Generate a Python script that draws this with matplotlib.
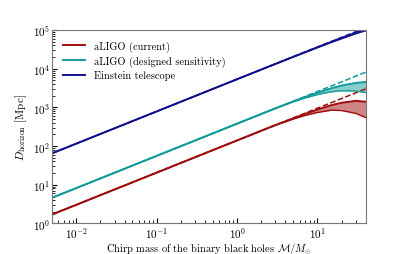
import matplotlib
matplotlib.use('Agg')
import matplotlib.pyplot as plt
import numpy as np

plt.rcParams['font.family'] = 'serif'
plt.rcParams['font.serif'] = ['cmr10', 'DejaVu Serif']
plt.rcParams['mathtext.fontset'] = 'cm'
plt.rcParams['axes.formatter.use_mathtext'] = True
plt.rcParams['font.size'] = 7.5

# chirp mass [M_sun]
mass = [0.005, 1, 3, 5, 7, 10, 15, 20, 30, 40]
mass_ideal = [0.005, 40]

# horizon distance [Mpc]
red_ideal = [1.7, 3030]
red_hi = [1.7, 140, 350, 520, 680, 880, 1150, 1320, 1480, 1400]
red_lo = [1.7, 140, 345, 500, 620, 740, 850, 830, 700, 545]

cyan_ideal = [4.6, 8190]
cyan_hi = [4.6, 380, 950, 1430, 1850, 2400, 3150, 3700, 4300, 4570]
cyan_lo = [4.6, 380, 940, 1400, 1750, 2150, 2550, 2700, 2650, 2410]

blue_ideal = [65, 115700]
blue_hi = [65, 5370, 13400, 20400, 26900, 36000, 50000, 63000, 86000, 105000]
blue_lo = [65, 5370, 13300, 20200, 26500, 35300, 48500, 60000, 81000, 97000]

labels = ['aLIGO (current)', 'aLIGO (designed sensitivity)', 'Einstein telescope']
colors = ['#a00d0d', '#129a9a', '#12128f']

fig = plt.figure(figsize=(4.07, 2.55), dpi=100)
ax = fig.add_axes([0.128, 0.12, 0.771, 0.758])

series = [(red_ideal, red_hi, red_lo), (cyan_ideal, cyan_hi, cyan_lo),
          (blue_ideal, blue_hi, blue_lo)]
for (ideal, hi, lo), c, lab in zip(series, colors, labels):
    ax.plot(mass_ideal, ideal, '--', color=c, lw=1.1)
    ax.fill_between(mass, lo, hi, color=c, alpha=0.5, lw=0)
    ax.plot(mass, hi, color=c, lw=1.4, label=lab)
    ax.plot(mass, lo, color=c, lw=1.0)

ax.set_xscale('log')
ax.set_yscale('log')
ax.set_xlim(0.005, 40)
ax.set_ylim(1, 1e5)
ax.set_xlabel(r'Chirp mass of the binary black holes $\mathcal{M}/M_{\odot}$',
              fontsize=7.5, labelpad=-0.5)
ax.set_ylabel(r'$D_{\rm horizon}$ [Mpc]', fontsize=8, labelpad=3)
ax.tick_params(which='both', direction='in', labelsize=8, pad=1.5)
for s in ax.spines.values():
    s.set_color('#777777')

ax.legend(loc='upper left', frameon=False, handlelength=2.2, borderaxespad=0.6,
          labelspacing=0.35)

fig.savefig('out.png', dpi=100)
